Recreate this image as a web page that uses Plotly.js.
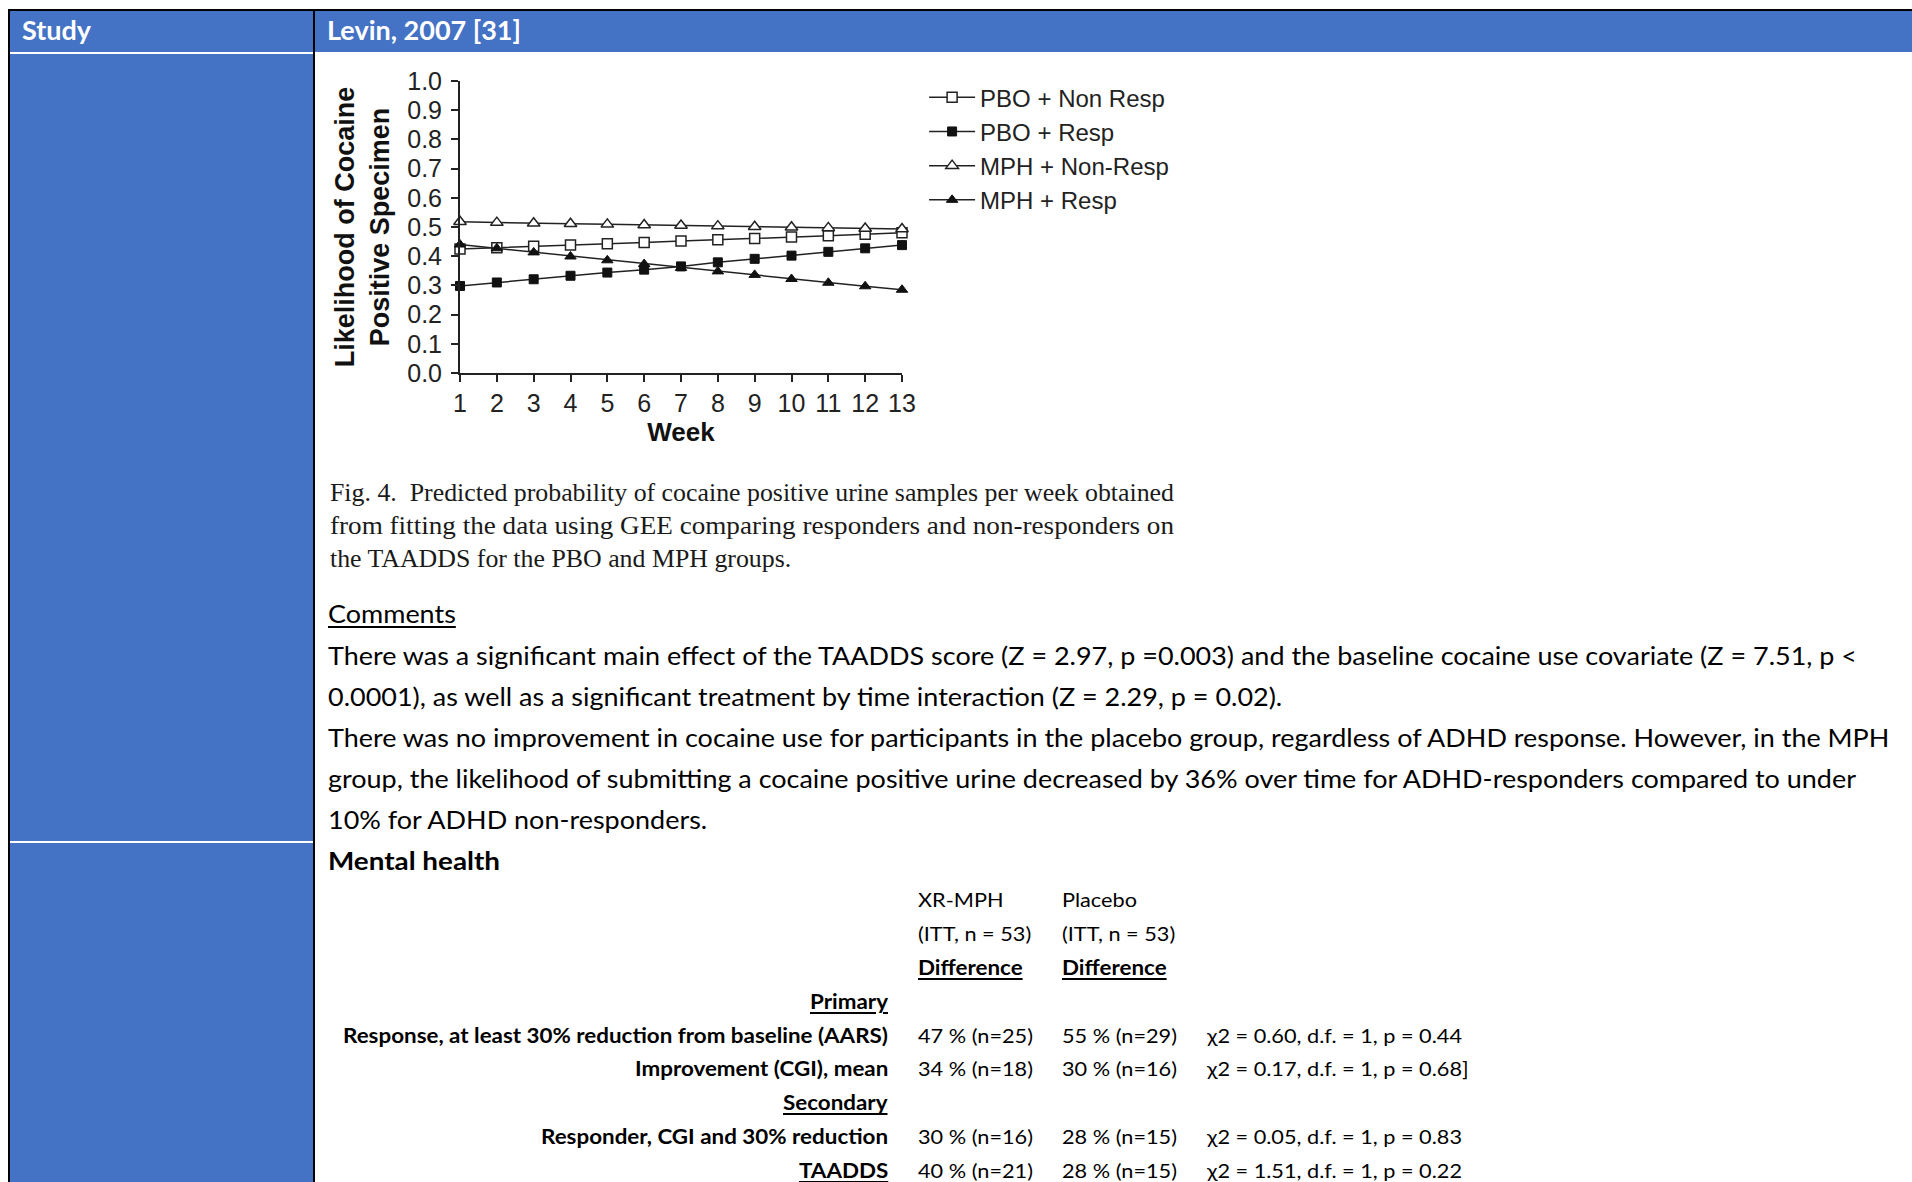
<!DOCTYPE html>
<html><head><meta charset="utf-8">
<script src="https://cdn.plot.ly/plotly-3.0.1.min.js"></script>
<style>
html,body{margin:0;padding:0;background:#fff;}
body{width:1912px;height:1182px;position:relative;overflow:hidden;}
.r{position:absolute;}
.t{position:absolute;white-space:nowrap;line-height:1;color:#000;font-family:Lato,'Open Sans',sans-serif;transform-origin:0 50%;}
</style></head><body>
<div class="r" style="left:8px;top:9px;width:1904px;height:2px;background:#000"></div>
<div class="r" style="left:8px;top:11px;width:1904px;height:41px;background:#4472C4"></div>
<div class="r" style="left:10px;top:52px;width:303px;height:1130px;background:#4472C4"></div>
<div class="r" style="left:10px;top:52px;width:303px;height:2px;background:#fff"></div>
<div class="r" style="left:10px;top:841px;width:303px;height:2px;background:#fff"></div>
<div class="r" style="left:8px;top:9px;width:2px;height:1173px;background:#000"></div>
<div class="r" style="left:313px;top:9px;width:2px;height:1173px;background:#000"></div>
<div id="chart" class="r" style="left:320px;top:60px;width:900px;height:420px"></div>
<script>
// ---- chart data ----
const weeks = [1,2,3,4,5,6,7,8,9,10,11,12,13];
const pboNonResp = [0.425,0.429,0.434,0.438,0.443,0.447,0.452,0.456,0.461,0.466,0.470,0.475,0.480];
const pboResp    = [0.298,0.310,0.321,0.333,0.344,0.354,0.365,0.379,0.391,0.402,0.415,0.427,0.438];
const mphNonResp = [0.518,0.515,0.513,0.511,0.509,0.507,0.505,0.503,0.501,0.499,0.497,0.495,0.493];
const mphResp    = [0.440,0.427,0.413,0.399,0.386,0.373,0.360,0.348,0.336,0.322,0.309,0.297,0.285];
const seriesNames = ['PBO + Non Resp','PBO + Resp','MPH + Non-Resp','MPH + Resp'];

// ---- document text ----
const headerLabels = ['Study','Levin, 2007 [31]'];
const captionLines = [
  'Fig. 4.\u00a0 Predicted probability of cocaine positive urine samples per week obtained',
  'from fitting the data using GEE comparing responders and non-responders on',
  'the TAADDS for the PBO and MPH groups.'
];
const commentLines = [
  'There was a significant main effect of the TAADDS score (Z = 2.97, p =0.003) and the baseline cocaine use covariate (Z = 7.51, p <',
  '0.0001), as well as a significant treatment by time interaction (Z = 2.29, p = 0.02).',
  'There was no improvement in cocaine use for participants in the placebo group, regardless of ADHD response. However, in the MPH',
  'group, the likelihood of submitting a cocaine positive urine decreased by 36% over time for ADHD-responders compared to under',
  '10% for ADHD non-responders.'
];
const colHeadA = ['XR-MPH','(ITT, n = 53)','Difference'];
const colHeadB = ['Placebo','(ITT, n = 53)','Difference'];
const rowLabels = ['Primary','Response, at least 30% reduction from baseline (AARS)','Improvement (CGI), mean','Secondary','Responder, CGI and 30% reduction','TAADDS'];
const rowUnderline = [true,false,false,true,false,true];
const xrMphDiff  = ['','47 % (n=25)','34 % (n=18)','','30 % (n=16)','40 % (n=21)'];
const placeboDiff= ['','55 % (n=29)','30 % (n=16)','','28 % (n=15)','28 % (n=15)'];
const chiStats   = ['','\u03c72 = 0.60, d.f. = 1, p = 0.44','\u03c72 = 0.17, d.f. = 1, p = 0.68]','','\u03c72 = 0.05, d.f. = 1, p = 0.83','\u03c72 = 1.51, d.f. = 1, p = 0.22'];

// ---- chart ----
const lineC = '#222';
const markerStyles = [
  {symbol:'square', size:10, color:'#fff', line:{color:lineC,width:1.5}},
  {symbol:'square', size:9, color:'#111', line:{color:'#111',width:1}},
  {symbol:'triangle-up', size:11, color:'#fff', line:{color:lineC,width:1.5}},
  {symbol:'triangle-up', size:10, color:'#111', line:{color:'#111',width:1}}
];
const seriesVals = [pboNonResp, pboResp, mphNonResp, mphResp];
const traces = seriesVals.map((v,i)=>({
  x: weeks, y: v, name: seriesNames[i], type:'scatter', mode:'lines+markers',
  line:{color:lineC,width:1.5}, marker: markerStyles[i], cliponaxis:false
}));
const fnt = 'Liberation Sans, Arial, sans-serif';
const layout = {
  width:900, height:420,
  margin:{l:140,r:318,t:21,b:107,pad:0},
  paper_bgcolor:'rgba(0,0,0,0)', plot_bgcolor:'#fff',
  font:{family:fnt,color:'#222'},
  showlegend:true,
  legend:{x:1.05,xanchor:'left',y:1.02,yanchor:'top',font:{family:fnt,size:24,color:'#222'},
          itemwidth:46,bgcolor:'rgba(0,0,0,0)',borderwidth:0},
  xaxis:{range:[1,13],tick0:1,dtick:1,showline:true,linecolor:lineC,linewidth:2,
         ticks:'outside',ticklen:7,tickwidth:2,tickcolor:lineC,showgrid:false,zeroline:false,
         tickfont:{family:fnt,size:25,color:'#222'},ticklabelstandoff:0,
         title:{text:'<b>Week</b>',font:{family:fnt,size:26,color:'#111'},standoff:4}},
  yaxis:{range:[0,1],tick0:0,dtick:0.1,tickformat:'.1f',showline:true,linecolor:lineC,linewidth:2,
         ticks:'outside',ticklen:7,tickwidth:2,tickcolor:lineC,showgrid:false,zeroline:false,
         tickfont:{family:fnt,size:25,color:'#222'},ticklabelstandoff:4,
         title:{text:'<b>Likelihood of Cocaine<br>Positive Specimen</b>',font:{family:fnt,size:27,color:'#111'},standoff:10}}
};
Plotly.newPlot('chart', traces, layout, {staticPlot:true, displayModeBar:false});

// ---- text layout ----
const items = [];
function addText(str, o){
  const d = document.createElement('div');
  d.className = 't';
  d.textContent = str;
  d.style.fontSize = o.fs + 'px';
  if(o.bold) d.style.fontWeight = '700';
  if(o.family) d.style.fontFamily = o.family;
  if(o.color) d.style.color = o.color;
  if(o.ul){ d.style.textDecoration = 'underline'; d.style.textDecorationThickness = '2px'; d.style.textUnderlineOffset = '3px'; }
  d.style.top = (o.cy - o.k*o.fs) + 'px';
  document.body.appendChild(d);
  items.push({el:d, o:o});
  return d;
}
const SANS_K = 0.53, SERIF_K = 0.51;
// header
addText(headerLabels[0], {x:22, cy:31, fs:26, bold:true, color:'#fff', k:SANS_K, g:'hdr'});
addText(headerLabels[1], {x:327, cy:31, fs:26, bold:true, color:'#fff', k:SANS_K, g:'hdr', ref:194});
// caption
const serif = "'Liberation Serif','Times New Roman',serif";
const capY = [493,526,559];
captionLines.forEach((s,i)=>addText(s, {x:330, cy:capY[i], fs:26, family:serif, color:'#1a1a1a', k:SERIF_K,
   g: i===1 ? 'cap2' : 'cap', ref: i===0 ? 844 : (i===1 ? 844 : undefined)}));
// comments
addText('Comments', {x:328, cy:614, fs:25, ul:true, k:SANS_K, g:'body'});
const comY = [656,697,738,779,820];
commentLines.forEach((s,i)=>addText(s, {x:328, cy:comY[i], fs:25, k:SANS_K, g:'body', ref: i===0 ? 1529 : undefined}));
addText('Mental health', {x:328, cy:861, fs:25, bold:true, k:SANS_K, g:'bodyb', ref:172});
// table
const rowY0 = 900, rowDY = 33.8;
for(let i=0;i<3;i++){
  addText(colHeadA[i], {x:918, cy:rowY0+i*rowDY, fs:20, bold:i===2, ul:i===2, k:SANS_K, g: i===2?'tblb':'tbl'});
  addText(colHeadB[i], {x:1062, cy:rowY0+i*rowDY, fs:20, bold:i===2, ul:i===2, k:SANS_K, g: i===2?'tblb':'tbl'});
}
rowLabels.forEach((lab,i)=>{
  const cy = rowY0 + (i+3)*rowDY;
  addText(lab, {xr:888, cy:cy, fs:20, bold:true, ul:rowUnderline[i], k:SANS_K, g:'tblb', ref: i===1 ? 545 : undefined});
  if(xrMphDiff[i]) addText(xrMphDiff[i], {x:918, cy:cy, fs:20, k:SANS_K, g:'tbl'});
  if(placeboDiff[i]) addText(placeboDiff[i], {x:1062, cy:cy, fs:20, k:SANS_K, g:'tbl'});
  if(chiStats[i]) addText(chiStats[i], {x:1207, cy:cy, fs:20, k:SANS_K, g:'tbl', ref: i===1 ? 255 : undefined});
});

function layoutTexts(){
  const scales = {};
  items.forEach(it=>{
    if(it.o.ref){ it.w = it.el.getBoundingClientRect().width; scales[it.o.g] = it.o.ref / it.w; }
  });
  items.forEach(it=>{
    const w = it.el.getBoundingClientRect().width;
    const s = scales[it.o.g] || 1;
    it.el.style.transform = 'scaleX(' + s.toFixed(4) + ')';
    const left = (it.o.xr !== undefined) ? it.o.xr - w*s : it.o.x;
    it.el.style.left = left + 'px';
  });
}
if(document.fonts && document.fonts.ready){ document.fonts.ready.then(layoutTexts); } else { layoutTexts(); }
</script>
</body></html>
